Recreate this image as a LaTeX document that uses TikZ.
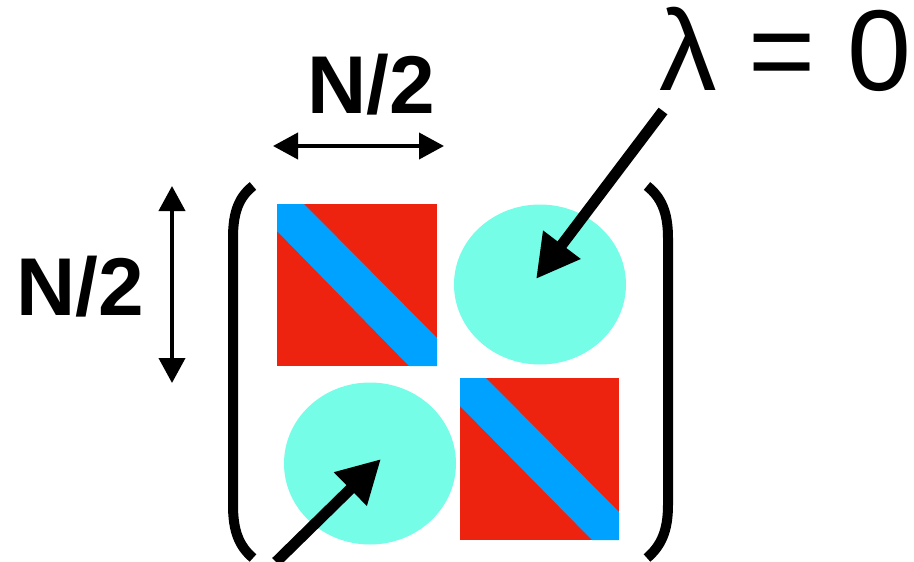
\documentclass[tikz,border=0pt]{standalone}
\usepackage{fontspec}
\setmainfont{Liberation Sans}
\usetikzlibrary{arrows.meta}
\definecolor{blockred}{RGB}{237,35,15}
\definecolor{bandblue}{RGB}{0,162,255}
\definecolor{zerocyan}{RGB}{118,253,232}
\tikzset{
  dimarrow/.style={line width=4pt,{Triangle[length=25pt,width=26pt]}-{Triangle[length=25pt,width=26pt]}},
  bigarrow/.style={line width=11pt,-{Triangle[length=43pt,width=44pt]}},
  paren/.style={line width=10pt},
  dimlabel/.style={inner sep=0pt,font=\fontsize{82}{96}\selectfont\bfseries},
  lamlabel/.style={inner sep=0pt,font=\fontsize{115}{130}\selectfont}
}
\begin{document}
\begin{tikzpicture}[x=1pt,y=-1pt]
\useasboundingbox (0,0) rectangle (914,562);
% blocks
\fill[blockred] (277,204) rectangle (437,366);
\fill[bandblue] (277,204) -- (304,204) -- (437,338) -- (437,366) -- (409,366) -- (277,231) -- cycle;
\fill[blockred] (460,378) rectangle (619,540);
\fill[bandblue] (460,378) -- (486,378) -- (619,512) -- (619,540) -- (592,540) -- (460,406) -- cycle;
% zero blocks
\fill[zerocyan] (540,284.5) ellipse [x radius=86, y radius=80];
\fill[zerocyan] (370,463.5) ellipse [x radius=86, y radius=81];
% parentheses
\draw[paren] (253,186) .. controls (239,197) and (233,212) .. (233,238) -- (233,505) .. controls (233,531) and (239,546) .. (253,558);
\draw[paren] (647,186) .. controls (661,197) and (668,212) .. (668,238) -- (668,505) .. controls (668,531) and (661,546) .. (647,558);
% dimension arrows and labels
\coordinate (hL) at (273,146);
\coordinate (hR) at (444,146);
\draw[dimarrow] (hL) -- (hR);
\coordinate (vT) at (172,186);
\coordinate (vB) at (172,383);
\draw[dimarrow] (vT) -- (vB);
\node[dimlabel,anchor=base] (ntop) at (371,113) {N/2};
\node[dimlabel,anchor=base] (nleft) at (80.5,315) {N/2};
% lambda label and arrows
\node[lamlabel,anchor=base west] (lam) at (659,90) {λ = 0};
\coordinate (t1) at (663,111);
\coordinate (h1) at (536,279);
\draw[bigarrow] (t1) -- (h1);
\coordinate (t2) at (276,562);
\coordinate (h2) at (381,459);
\draw[bigarrow] (t2) -- (h2);
\end{tikzpicture}
\end{document}
